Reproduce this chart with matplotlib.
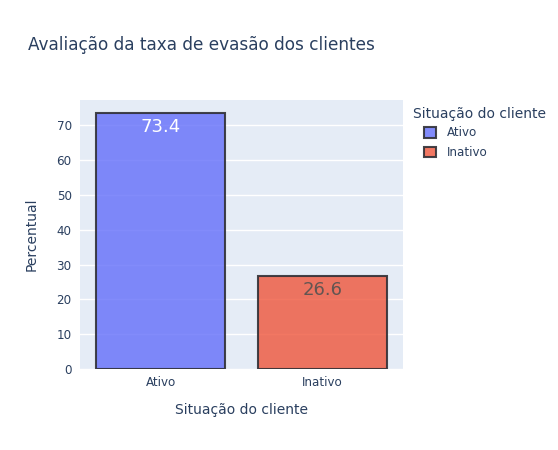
import matplotlib
matplotlib.use("Agg")
import matplotlib.pyplot as plt
from matplotlib.colors import to_rgba

categories = ["Ativo", "Inativo"]
values = [73.4, 26.6]
labels = ["73.4", "26.6"]
colors = ["#636efa", "#EF553B"]
text_colors = ["white", "#625552"]
yticks = [0, 10, 20, 30, 40, 50, 60, 70]

plt.rcParams['font.family'] = ['DejaVu Sans']
TXT = "#2a3f5f"

W, H = 558, 450
fig = plt.figure(figsize=(W/100, H/100), dpi=100)
ax = fig.add_axes([80/W, 1-369/H, (403-80)/W, (369-100)/H])
ax.set_facecolor("#E5ECF6")
ax.set_axisbelow(True)
ax.grid(axis='y', color='white', linewidth=1.0)
for s in ax.spines.values():
    s.set_visible(False)

x = list(range(len(categories)))
bars = []
for i, (c, v, col) in enumerate(zip(categories, values, colors)):
    b = ax.bar(i, v, width=0.8, color=to_rgba(col, 0.8), edgecolor=to_rgba("#303036", 0.9),
               linewidth=1.5, label=c)
    bars.append(b)
    ax.annotate(labels[i], xy=(i, v), xytext=(0, -14*0.72), textcoords='offset points',
                ha='center', va='center', fontsize=13, color=text_colors[i])

ax.set_xlim(-0.5, 1.5)
ax.set_ylim(0, 77.26)
ax.set_yticks(yticks)
ax.set_xticks(x)
ax.set_xticklabels(categories)
ax.tick_params(axis='both', length=0, labelsize=8.6, colors=TXT, pad=5)
ax.tick_params(axis='y', pad=6)

ax.set_ylabel("Percentual", fontsize=10, color=TXT, labelpad=13)
ax.set_xlabel("Situação do cliente", fontsize=10, color=TXT, labelpad=10)

fig.text(28/W, 1-45/H, "Avaliação da taxa de evasão dos clientes", fontsize=12.2,
         color=TXT, ha='left', va='center')

fig.text(413/W, 1-114/H, "Situação do cliente", fontsize=10, color=TXT,
         ha='left', va='center')
leg = ax.legend(handles=[b[0] for b in bars], labels=categories,
                loc='upper left',
                bbox_to_anchor=(422/W, 1-124/H), bbox_transform=fig.transFigure,
                frameon=False, fontsize=8.6,
                handlelength=1.0, handleheight=1.0, labelspacing=0.55,
                handletextpad=0.9, borderaxespad=0, borderpad=0.2)
for t in leg.get_texts():
    t.set_color(TXT)

fig.savefig("out.png", dpi=100, facecolor='white')
